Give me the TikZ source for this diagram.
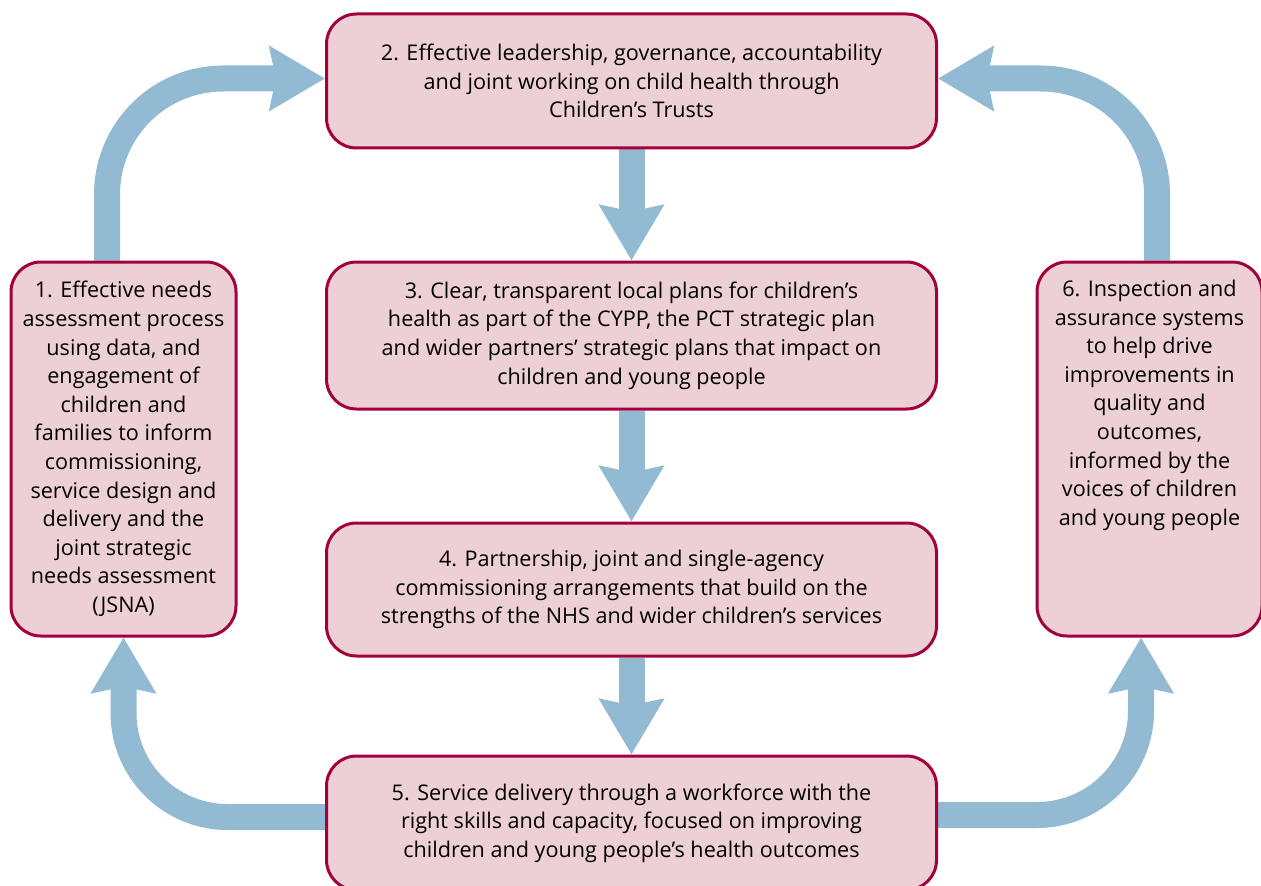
\documentclass[tikz,border=0pt]{standalone}
\usepackage{fontspec}
\setmainfont{Open Sans}
\usetikzlibrary{arrows.meta,positioning,backgrounds}
\definecolor{boxline}{RGB}{163,0,62}
\definecolor{boxfill}{RGB}{237,208,213}
\definecolor{flowblue}{RGB}{146,186,210}

\begin{document}
\begin{tikzpicture}[x=0.5pt,y=0.5pt,on grid,
	stage/.style={draw=boxline, fill=boxfill, line width=1.5pt, rounded corners=15pt,
		align=center, inner sep=0pt, minimum width=305pt,
		font=\fontsize{10.8}{14.3}\selectfont},
	side/.style={stage, minimum width=112.5pt, minimum height=187pt},
	flow/.style={flowblue, draw, line width=13pt,
		-{Stealth[length=27.5pt,width=31.5pt,inset=3pt]}}]
	\useasboundingbox (0,0) rectangle (1261,885);

	\node[stage, minimum height=67pt]	(s_2) at (631.5,804)	{2. Effective leadership, governance, accountability\\and joint working on child health through\\Children's Trusts};
	\node[stage, minimum height=73.5pt]	(s_3) [below=127.25pt of s_2]	{3. Clear, transparent local plans for children's\\health as part of the CYPP, the PCT strategic plan\\and wider partners' strategic plans that impact on\\children and young people};
	\node[stage, minimum height=66.5pt]	(s_4) [below=127pt of s_3]	{4. Partnership, joint and single-agency\\commissioning arrangements that build on the\\strengths of the NHS and wider children's services};
	\node[stage, minimum height=67pt]	(s_5) [below=116.75pt of s_4]	{5. Service delivery through a workforce with the\\right skills and capacity, focused on improving\\children and young people's health outcomes};
	\node[side]	(s_1) at (123.5,436)	{1. Effective needs\\assessment process\\using data, and\\engagement of\\children and\\families to inform\\commissioning,\\service design and\\delivery and the\\joint strategic\\needs assessment\\(JSNA)};
	\node[side, inner ysep=9pt]	(s_6) at (1149.5,436)	{\parbox[c][169pt][t]{105pt}{\centering 6. Inspection and\\assurance systems\\to help drive\\improvements in\\quality and\\outcomes,\\informed by the\\voices of children\\and young people}};

\begin{scope}[on background layer]
\draw[flow] (s_2) -- (s_3);
\draw[flow] (s_3) -- (s_4);
\draw[flow] (s_4) -- (s_5);
\draw[flow, rounded corners=58pt] ([xshift=-8.25pt]s_1.north) |- ([yshift=1.25pt]s_2.west);
\draw[flow, rounded corners=58pt] ([xshift=3.75pt]s_6.north) |- ([yshift=1.25pt]s_2.east);
\draw[flow, rounded corners=52pt] ([yshift=3pt]s_5.west) -| (s_1.south);
\draw[flow, rounded corners=52pt] ([yshift=4pt]s_5.east) -| ([xshift=-4.25pt]s_6.south);
\end{scope}
\end{tikzpicture}
\end{document}
